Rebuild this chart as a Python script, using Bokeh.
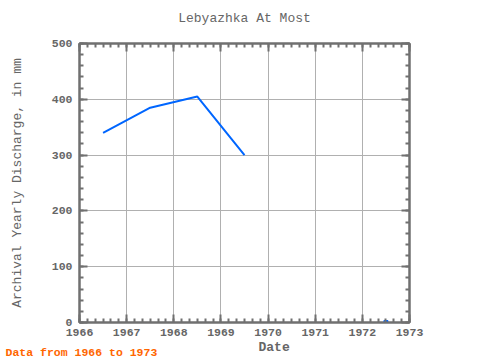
from bokeh.plotting import figure
from bokeh.models import LinearAxis, SingleIntervalTicker, Range1d, Grid, Title
from bokeh.embed import file_html
from bokeh.resources import INLINE

# data
years = [1966.5, 1967.5, 1968.5, 1969.5]
discharge = [340, 385, 405, 300]
single_year = [1972.5]
single_val = [0]

title_text = "Lebyazhka At Most"
x_label = "Date"
y_label = "Archival Yearly Discharge, in mm"
footer_text = "Data from 1966 to 1973"

FONT = "Liberation Mono"
GRAY = "#666666"
AXIS = "#707070"

p = figure(width=480, height=360, output_backend="svg", toolbar_location=None,
           x_range=Range1d(1966, 1973), y_range=Range1d(0, 500),
           min_border_left=79, min_border_right=71, min_border_top=43, min_border_bottom=38,
           x_axis_location=None, y_axis_location=None)
p.title.visible = False
p.background_fill_color = "white"
p.border_fill_color = "white"
p.outline_line_color = AXIS
p.outline_line_width = 2

def make_axis(kind, show_labels):
    ax = LinearAxis()
    if kind == "x":
        ax.ticker = SingleIntervalTicker(interval=1, num_minor_ticks=6)
    else:
        ax.ticker = SingleIntervalTicker(interval=100, num_minor_ticks=5)
    ax.axis_line_color = AXIS
    ax.axis_line_width = 2
    ax.major_tick_line_color = AXIS
    ax.minor_tick_line_color = AXIS
    ax.major_tick_line_width = 2
    ax.minor_tick_line_width = 2
    ax.major_tick_in = 8
    ax.major_tick_out = 0
    ax.minor_tick_in = 4
    ax.minor_tick_out = 0
    ax.major_label_text_font = FONT
    ax.major_label_text_font_style = "bold"
    if show_labels:
        ax.major_label_text_color = GRAY
        ax.major_label_text_font_size = "11.5px"
        ax.major_label_standoff = 6
    else:
        ax.major_label_text_color = None
        ax.major_label_text_font_size = "1px"
        ax.major_label_standoff = 0
    return ax

xb = make_axis("x", True)
p.add_layout(xb, "below")

# top axis carries the chart title as its label
xt = make_axis("x", False)
xt.axis_label = title_text
xt.axis_label_text_font = FONT
xt.axis_label_text_font_size = "13px"
xt.axis_label_text_font_style = "normal"
xt.axis_label_text_color = GRAY
xt.axis_label_standoff = 18
p.add_layout(xt, "above")

yl = make_axis("y", True)
yl.major_label_standoff = 7
yl.axis_label = y_label
yl.axis_label_text_font = FONT
yl.axis_label_text_font_size = "13px"
yl.axis_label_text_font_style = "normal"
yl.axis_label_text_color = GRAY
yl.axis_label_standoff = 24
p.add_layout(yl, "left")
p.add_layout(make_axis("y", False), "right")

p.add_layout(Grid(dimension=0, ticker=SingleIntervalTicker(interval=1), grid_line_color="#b0b0b0", grid_line_width=1))
p.add_layout(Grid(dimension=1, ticker=SingleIntervalTicker(interval=100), grid_line_color="#b0b0b0", grid_line_width=1))

p.line(years, discharge, line_color="#0066ff", line_width=2)
p.scatter(single_year, single_val, marker="square", size=4, color="#0066ff")

date_title = Title(text=x_label, align="left", offset=179, vertical_align="top", standoff=3,
                   text_font=FONT, text_font_size="13px", text_font_style="bold", text_color=GRAY)
p.add_layout(date_title, "below")
footer = Title(text=footer_text, align="left", offset=-74, vertical_align="top", standoff=-26,
               text_font=FONT, text_font_size="11.5px", text_font_style="bold", text_color="#ff6600")
p.add_layout(footer, "below")

open("out.html", "w").write(file_html(p, INLINE))
